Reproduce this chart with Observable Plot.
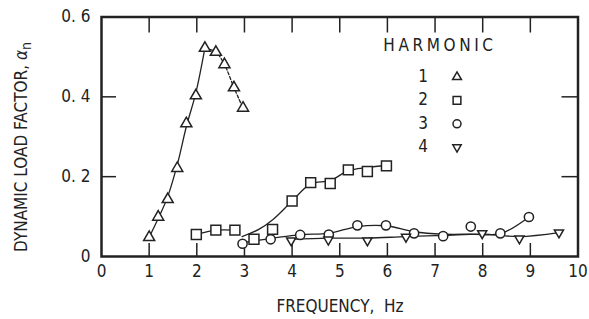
<!DOCTYPE html>
<html><head><meta charset="utf-8">
<script src="https://cdn.jsdelivr.net/npm/d3@7"></script>
<script src="https://cdn.jsdelivr.net/npm/@observablehq/plot@0.6"></script>
<style>
body{margin:0;background:#fff;}
#wrap{width:589px;height:319px;}
</style></head><body><div id="wrap"></div><script>
// ---- data ----
const h1Freq = [1.0, 1.19, 1.39, 1.59, 1.78, 1.98, 2.17, 2.40, 2.58, 2.78, 2.97];
const h1Val  = [0.048, 0.099, 0.143, 0.221, 0.333, 0.403, 0.522, 0.512, 0.481, 0.423, 0.372];
const h2Freq = [1.99, 2.40, 2.80, 3.20, 3.59, 4.0, 4.39, 4.80, 5.18, 5.58, 5.98];
const h2Val  = [0.055, 0.066, 0.066, 0.043, 0.068, 0.139, 0.185, 0.183, 0.217, 0.213, 0.227];
const h3Freq = [2.96, 3.55, 4.17, 4.77, 5.37, 5.97, 6.56, 7.17, 7.75, 8.37, 8.97];
const h3Val  = [0.032, 0.043, 0.054, 0.055, 0.078, 0.078, 0.058, 0.051, 0.075, 0.058, 0.099];
const h4Freq = [3.98, 4.76, 5.58, 6.39, 7.99, 8.77, 9.60];
const h4Val  = [0.040, 0.042, 0.040, 0.049, 0.058, 0.045, 0.060];
// faired curves drawn through the data
const fit1Freq = [1.0, 1.19, 1.39, 1.59, 1.78, 1.98, 2.17];
const fit1Val  = [0.048, 0.095, 0.150, 0.230, 0.325, 0.410, 0.522];
const fit2aFreq = [1.99, 2.40, 2.80];
const fit2aVal  = [0.055, 0.066, 0.066];
const fit2bFreq = [2.95, 3.30, 3.60, 4.00, 4.39, 4.80, 5.18, 5.58, 5.98];
const fit2bVal  = [0.050, 0.068, 0.093, 0.139, 0.182, 0.190, 0.215, 0.223, 0.228];
const fit3Freq = [2.96, 3.55, 4.17, 4.77, 5.37, 5.97, 6.56, 7.17, 7.75, 8.37, 8.97];
const fit3Val  = [0.035, 0.045, 0.055, 0.058, 0.075, 0.077, 0.062, 0.056, 0.056, 0.057, 0.099];
const fit4Freq = [3.98, 4.76, 5.58, 6.39, 7.20, 7.99, 8.77, 9.60];
const fit4Val  = [0.043, 0.046, 0.046, 0.050, 0.053, 0.056, 0.050, 0.060];
const xTicks = [0,1,2,3,4,5,6,7,8,9,10];
const yTicks = [0, 0.2, 0.4, 0.6];
const innerXTicks = [1,2,3,4,5,6,7,8,9];
const innerYTicks = [0.2, 0.4];
const legendLabels = ["1","2","3","4"];
const legendTitle = "HARMONIC";
const xLabel = "FREQUENCY,  Hz";
const yLabel = "DYNAMIC LOAD FACTOR, ";

const rows = (fs, vs) => fs.map((f, i) => ({f, v: vs[i]}));
const H1 = rows(h1Freq, h1Val), H2 = rows(h2Freq, h2Val), H3 = rows(h3Freq, h3Val), H4 = rows(h4Freq, h4Val);
const H1fall = H1.filter(d => d.f >= 2.17);

const W = 589, Ht = 319, mL = 101, mR = 11.5, mT = 16.5, mB = 63;
const pw = W - mL - mR, ph = Ht - mT - mB;
const ink = "#222";
const FONT = "'DejaVu Sans Condensed', 'Liberation Sans Narrow', 'DejaVu Sans', sans-serif";
const FS = 17;
const invTri = {draw(ctx, size) {
  const y = -Math.sqrt(size / (Math.sqrt(3) * 3)), s3 = Math.sqrt(3);
  ctx.moveTo(0, -y * 2); ctx.lineTo(-s3 * y, y); ctx.lineTo(s3 * y, y); ctx.closePath();
}};
const ln = {x: "f", y: "v", stroke: ink, strokeWidth: 1.3, curve: "catmull-rom"};
const dot = (data, symbol, r) => Plot.dot(data, {x: "f", y: "v", symbol, r, stroke: ink, strokeWidth: 1.5, fill: "white"});

const chart = Plot.plot({
  width: W, height: Ht, marginLeft: mL, marginRight: mR, marginTop: mT, marginBottom: mB,
  style: {fontFamily: FONT, fontSize: FS + "px", color: ink, background: "white"},
  x: {domain: [0, 10]},
  y: {domain: [0, 0.6]},
  marks: [
    Plot.axisX(xTicks, {anchor: "bottom", tickSize: 0, tickPadding: 8, label: null, fontSize: FS, tickFormat: d => String(d)}),
    Plot.axisY(yTicks, {anchor: "left", tickSize: 0, tickPadding: 11, label: null, fontSize: FS,
      tickFormat: d => d === 0 ? "0" : d.toFixed(1).replace(".", ". ")}),
    Plot.tickX(innerXTicks, {x: d => d, insetTop: ph - 13, stroke: ink, strokeWidth: 1.5}),
    Plot.tickX(innerXTicks, {x: d => d, insetBottom: ph - 16, stroke: ink, strokeWidth: 1.5}),
    Plot.tickY(innerYTicks, {y: d => d, insetRight: pw - 15, stroke: ink, strokeWidth: 1.5}),
    Plot.tickY(innerYTicks, {y: d => d, insetLeft: pw - 16, stroke: ink, strokeWidth: 1.5}),
    Plot.line(rows(fit1Freq, fit1Val), ln),
    Plot.line(H1fall, {...ln, strokeDasharray: "3,2"}),
    Plot.line(rows(fit2aFreq, fit2aVal), ln),
    Plot.line(rows(fit2bFreq, fit2bVal), ln),
    Plot.line(rows(fit3Freq, fit3Val), ln),
    Plot.line(rows(fit4Freq, fit4Val), ln),
    dot(H2, "square", 5.6),
    dot(H3, "circle", 4.6),
    dot(H4, invTri, 3.4),
    dot(H1, "triangle", 4.1),
    Plot.frame({stroke: ink, strokeWidth: 2.5})
  ]
});
document.getElementById("wrap").appendChild(chart);

const svg = d3.select(chart);
// axis titles
svg.append("text").attr("x", 340).attr("y", 307).attr("text-anchor", "middle").attr("dominant-baseline", "middle")
  .attr("font-family", FONT).attr("font-size", FS).attr("fill", ink).text(xLabel);
const yl = svg.append("text").attr("transform", "translate(22,147) rotate(-90)").attr("text-anchor", "middle")
  .attr("dominant-baseline", "middle").attr("font-family", FONT).attr("font-size", FS).attr("fill", ink);
yl.append("tspan").text(yLabel);
yl.append("tspan").attr("font-style", "italic").text("α");
yl.append("tspan").attr("font-size", 14).attr("dy", 5).text("n");
// legend
const lg = svg.append("g").attr("font-family", FONT).attr("fill", ink);
lg.append("text").attr("x", 440).attr("y", 46).attr("text-anchor", "middle").attr("dominant-baseline", "middle")
  .attr("font-size", FS).attr("letter-spacing", "3.6px").text(legendTitle);
const legSyms = [d3.symbolTriangle, d3.symbolSquare, d3.symbolCircle, invTri];
const legSizes = [34, 60, 50, 30];
legendLabels.forEach((t, i) => {
  const y = 77 + i * 23.4;
  lg.append("text").attr("x", 423).attr("y", y).attr("text-anchor", "middle").attr("dominant-baseline", "middle")
    .attr("font-size", FS).text(t);
  lg.append("path").attr("transform", `translate(457,${y})`).attr("d", d3.symbol(legSyms[i], legSizes[i])())
    .attr("fill", "white").attr("stroke", ink).attr("stroke-width", 1.5);
});
</script></body></html>
